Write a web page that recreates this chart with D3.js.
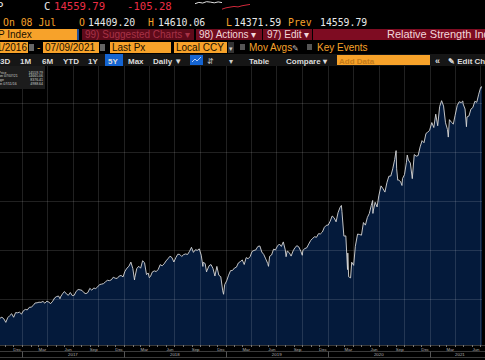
<!DOCTYPE html>
<html><head><meta charset="utf-8">
<script src="https://cdn.jsdelivr.net/npm/d3@7"></script>
<style>html,body{margin:0;padding:0;background:#000;overflow:hidden}</style>
</head><body><svg id="c" width="485" height="360"></svg>
<script>
// ---------- DATA ----------
const dates = ["2016-07-11","2016-07-15","2016-07-22","2016-07-29","2016-08-05","2016-08-12","2016-08-19","2016-08-26","2016-09-02","2016-09-09","2016-09-16","2016-09-23","2016-09-30","2016-10-07","2016-10-14","2016-10-21","2016-10-28","2016-11-04","2016-11-11","2016-11-18","2016-11-25","2016-12-02","2016-12-09","2016-12-16","2016-12-23","2016-12-30",
"2017-01-06","2017-01-13","2017-01-20","2017-01-27","2017-02-03","2017-02-10","2017-02-17","2017-02-24","2017-03-03","2017-03-10","2017-03-17","2017-03-24","2017-03-31","2017-04-07","2017-04-13","2017-04-21","2017-04-28","2017-05-05","2017-05-12","2017-05-17","2017-05-19","2017-05-26","2017-06-02","2017-06-09","2017-06-16","2017-06-23","2017-06-30","2017-07-07","2017-07-14","2017-07-21","2017-07-28","2017-08-04","2017-08-11","2017-08-18","2017-08-25","2017-09-01","2017-09-08","2017-09-15","2017-09-22","2017-09-29","2017-10-06","2017-10-13","2017-10-20","2017-10-27","2017-11-03","2017-11-10","2017-11-17","2017-11-24","2017-12-01","2017-12-08","2017-12-15","2017-12-22","2017-12-29",
"2018-01-05","2018-01-12","2018-01-19","2018-01-26","2018-02-02","2018-02-08","2018-02-09","2018-02-16","2018-02-23","2018-03-02","2018-03-09","2018-03-16","2018-03-23","2018-03-29","2018-04-02","2018-04-06","2018-04-13","2018-04-20","2018-04-27","2018-05-04","2018-05-11","2018-05-18","2018-05-25","2018-06-01","2018-06-08","2018-06-15","2018-06-22","2018-06-29","2018-07-06","2018-07-13","2018-07-20","2018-07-27","2018-08-03","2018-08-10","2018-08-17","2018-08-24","2018-08-31","2018-09-07","2018-09-14","2018-09-21","2018-09-28","2018-10-05","2018-10-11","2018-10-12","2018-10-19","2018-10-24","2018-10-26","2018-11-02","2018-11-09","2018-11-16","2018-11-23","2018-11-30","2018-12-07","2018-12-14","2018-12-21","2018-12-24","2018-12-28",
"2019-01-04","2019-01-11","2019-01-18","2019-01-25","2019-02-01","2019-02-08","2019-02-15","2019-02-22","2019-03-01","2019-03-08","2019-03-15","2019-03-22","2019-03-29","2019-04-05","2019-04-12","2019-04-18","2019-04-26","2019-05-03","2019-05-10","2019-05-17","2019-05-24","2019-05-31","2019-06-03","2019-06-07","2019-06-14","2019-06-21","2019-06-28","2019-07-05","2019-07-12","2019-07-19","2019-07-26","2019-08-02","2019-08-05","2019-08-09","2019-08-16","2019-08-23","2019-08-30","2019-09-06","2019-09-13","2019-09-20","2019-09-27","2019-10-02","2019-10-04","2019-10-11","2019-10-18","2019-10-25","2019-11-01","2019-11-08","2019-11-15","2019-11-22","2019-11-29","2019-12-06","2019-12-13","2019-12-20","2019-12-27",
"2020-01-03","2020-01-10","2020-01-17","2020-01-24","2020-01-31","2020-02-07","2020-02-14","2020-02-19","2020-02-21","2020-02-28","2020-03-06","2020-03-12","2020-03-13","2020-03-16","2020-03-20","2020-03-23","2020-03-27","2020-04-03","2020-04-09","2020-04-17","2020-04-24","2020-05-01","2020-05-08","2020-05-15","2020-05-22","2020-05-29","2020-06-05","2020-06-10","2020-06-11","2020-06-12","2020-06-19","2020-06-26","2020-07-02","2020-07-10","2020-07-17","2020-07-24","2020-07-31","2020-08-07","2020-08-14","2020-08-21","2020-08-28","2020-09-02","2020-09-04","2020-09-08","2020-09-11","2020-09-18","2020-09-23","2020-09-25","2020-10-02","2020-10-09","2020-10-12","2020-10-16","2020-10-23","2020-10-30","2020-11-06","2020-11-13","2020-11-20","2020-11-27","2020-12-04","2020-12-11","2020-12-18","2020-12-24","2020-12-31",
"2021-01-08","2021-01-15","2021-01-22","2021-01-29","2021-02-05","2021-02-12","2021-02-19","2021-02-26","2021-03-05","2021-03-08","2021-03-12","2021-03-19","2021-03-26","2021-04-01","2021-04-09","2021-04-16","2021-04-23","2021-04-29","2021-04-30","2021-05-07","2021-05-12","2021-05-14","2021-05-21","2021-05-28","2021-06-04","2021-06-11","2021-06-18","2021-06-25","2021-07-02","2021-07-07","2021-07-08"];
const closes = [4988,5029,5100,5162,5221,5232,5238,5219,5249,5125,5244,5305,5312,5292,5214,5257,5190,5046,5237,5321,5398,5255,5444,5437,5462,5383,
5521,5574,5555,5660,5667,5734,5838,5845,5870,5861,5901,5828,5912,5878,5805,5910,6047,6100,6121,6011,6083,6210,6305,6208,6151,6265,6140,6153,6312,6387,6374,6351,6256,6216,6265,6435,6360,6448,6426,6496,6590,6606,6629,6701,6764,6750,6783,6890,6847,6840,6936,6960,6903,
7136,7261,7336,7506,7240,6777,6874,7239,7337,7257,7560,7482,6993,7063,6870,6915,7107,7146,7120,7210,7403,7354,7434,7555,7646,7746,7692,7510,7688,7826,7820,7737,7812,7839,7816,7945,8110,7903,8010,7987,8046,7788,7329,7497,7449,7108,7167,7357,7407,7248,6938,7330,6970,6910,6333,6193,6585,
6739,6971,7157,7165,7264,7298,7472,7527,7595,7408,7689,7643,7729,7939,7984,7998,8146,8164,7917,7816,7637,7453,7333,7742,7797,8032,8006,8162,8244,8146,8330,8004,7726,7959,7896,7751,7963,8103,8177,8118,7940,7785,7982,8057,8090,8243,8386,8475,8541,8520,8665,8657,8735,8925,9007,
9020,9179,9388,9315,9151,9520,9731,9817,9577,8567,8576,7201,7875,6905,6880,6861,7502,7373,8154,8650,8634,8605,9121,9015,9325,9490,9815,10020,9493,9589,9946,9757,10208,10617,10503,10363,10745,11011,11019,11312,11696,12056,11313,10848,10854,10793,10633,10914,11075,11580,11876,11672,11548,10912,11895,11829,11855,12206,12464,12378,12756,12805,12888,
13202,12998,13543,13071,13856,14095,13875,13192,12920,12609,13320,13215,13139,13480,13900,14052,14016,14082,13962,13752,13032,13430,13471,13749,13814,14069,14030,14360,14639,14665,14560];
const yGridValues = [4000,6000,8000,10000,12000,14000];
const yearLabels = ["2017","2018","2019","2020","2021"];
const legendLabels = ["Last Price","High on 07/07/21","Average","Low on 07/11/16"];
const legendValues = ["14559.79","14665.06","8376.41","4988.64"];
const sparkPrev = [14560,14590,14575,14605,14595,14580,14600,14585];
const sparkToday = [14440,14470,14485,14500,14490,14515,14530,14545];
const periodButtons = ["3D","1M","6M","YTD","1Y","5Y","Max"];

// ---------- SETUP ----------
const W = 485, H = 360;
const svg = d3.select("#c");
svg.append("rect").attr("width", W).attr("height", H).attr("fill", "#000");
const MONO = "'DejaVu Sans Mono', 'Liberation Mono', monospace";
const SANS = "'Liberation Sans', Arial, sans-serif";
const ORANGE = "#f7a22a", RED = "#ec2d45", MAROON = "#720c1f";

function txt(g, x, yb, s, fill, size, fam, opts = {}) {
  const t = g.append("text").attr("x", x).attr("y", yb).text(s)
    .attr("fill", fill).attr("font-size", size).attr("font-family", fam);
  if (opts.anchor) t.attr("text-anchor", opts.anchor);
  if (opts.weight) t.attr("font-weight", opts.weight);
  return t;
}
function box(g, x, y, w, h, fill) {
  return g.append("rect").attr("x", x).attr("y", y).attr("width", w).attr("height", h).attr("fill", fill);
}

// ---------- HEADER ----------
const hd = svg.append("g");
// row 1
txt(hd, -3, 10, "P", "#e8e8e8", 10.6, MONO);
txt(hd, 44, 10, "C", "#e8e8e8", 10.6, MONO);
txt(hd, 54, 10, "14559.79", RED, 10.6, MONO);
txt(hd, 127, 10, "-105.28", RED, 10.6, MONO);
const spx1 = d3.scaleLinear().domain([0, sparkPrev.length - 1]).range([195, 222]);
const spx2 = d3.scaleLinear().domain([0, sparkToday.length - 1]).range([222, 250]);
const spy = d3.scaleLinear().domain([14400, 14620]).range([11, 1]);
hd.append("path").attr("d", d3.line().x((d, i) => spx1(i)).y(d => spy(d))(sparkPrev))
  .attr("fill", "none").attr("stroke", "#e0e0e0").attr("stroke-width", 1);
hd.append("path").attr("d", d3.line().x((d, i) => spx2(i)).y(d => spy(d))(sparkToday))
  .attr("fill", "none").attr("stroke", "#d0283a").attr("stroke-width", 1);
// row 2
txt(hd, 3, 26, "On 08 Jul", ORANGE, 9.8, MONO);
txt(hd, 79, 26, "O", ORANGE, 9.8, MONO);
txt(hd, 88, 26, "14409.20", "#e8e8e8", 9.8, MONO);
txt(hd, 148, 26, "H", ORANGE, 9.8, MONO);
txt(hd, 158, 26, "14610.06", "#e8e8e8", 9.8, MONO);
txt(hd, 226, 26, "L", ORANGE, 9.8, MONO);
txt(hd, 234, 26, "14371.59", "#e8e8e8", 9.8, MONO);
txt(hd, 288, 26, "Prev", ORANGE, 9.8, MONO);
txt(hd, 320, 26, "14559.79", "#e8e8e8", 9.8, MONO);
// row 3
box(hd, 0, 29, 77, 11, ORANGE);
box(hd, 77, 29, 2, 11, "#1f4f9a");
box(hd, 82, 29, 112, 11, "#5e0a1a");
box(hd, 196, 29, 66, 11, MAROON);
box(hd, 263, 29, 49, 11, MAROON);
box(hd, 313, 29, 172, 11, "#7e0c22");
txt(hd, -2, 38.3, "P Index", "#1a1000", 10, SANS);
txt(hd, 85, 38.3, "99) Suggested Charts \u25BE", "#a83246", 10, SANS);
txt(hd, 199, 38.3, "98) Actions \u25BE", "#f2d6da", 10, SANS);
txt(hd, 267, 38.3, "97) Edit \u25BE", "#f2d6da", 10, SANS);
txt(hd, 387, 38.3, "Relative Strength Index", "#f2d6da", 11, SANS);
// row 4
box(hd, 0, 42, 28, 11, ORANGE);
box(hd, 29, 44, 5, 7, "#666");
txt(hd, 37, 51.3, "-", ORANGE, 10, SANS);
box(hd, 43, 42, 56, 11, ORANGE);
box(hd, 100, 44, 5, 7, "#666");
box(hd, 110, 42, 61, 11, ORANGE);
box(hd, 174, 42, 53, 11, ORANGE);
box(hd, 228, 42, 6, 11, "#333");
txt(hd, 229, 51, "\u25BE", "#ccc", 7, SANS);
box(hd, 240, 44, 5, 6, "#555");
box(hd, 307, 44, 5, 6, "#555");
txt(hd, 27, 51.3, "07/11/2016", "#1a1000", 10, SANS, { anchor: "end" });
txt(hd, 45, 51.3, "07/09/2021", "#1a1000", 10, SANS);
txt(hd, 112, 51.3, "Last Px", "#1a1000", 10, SANS);
txt(hd, 176, 51.3, "Local CCY", "#1a1000", 10, SANS);
txt(hd, 249, 51.3, "Mov Avgs", ORANGE, 10, SANS);
txt(hd, 292, 51.3, "\u270E", "#bbb", 8, SANS);
txt(hd, 317, 51.3, "Key Events", ORANGE, 10, SANS);
// row 5
box(hd, 0, 54, W, 12, "#161616");
const btnX = [0, 20, 42, 63, 88, 108, 128];
box(hd, 105, 54, 18, 12, "#1464d2");
periodButtons.forEach((b, i) => txt(hd, btnX[i], 63.5, b, "#dcdcdc", 8, SANS, { weight: "bold" }));
txt(hd, 153, 63.5, "Daily \u25BC", "#dcdcdc", 8, SANS, { weight: "bold" });
box(hd, 190, 55, 13, 10, "#1464d2");
hd.append("path").attr("d", "M192,62 L195,59 L197,61 L201,57").attr("stroke", "#dfe8ff").attr("fill", "none").attr("stroke-width", 0.8);
txt(hd, 207, 63.5, "\u21F5", "#bbb", 8, SANS);
txt(hd, 229, 63.5, "\u25BE", "#ccc", 8, SANS);
txt(hd, 249, 63.5, "Table", "#dcdcdc", 8, SANS, { weight: "bold" });
txt(hd, 286, 63.5, "Compare \u25BE", "#dcdcdc", 8, SANS, { weight: "bold" });
box(hd, 337, 55, 93, 10, ORANGE);
txt(hd, 339, 63.5, "Add Data", "#c47a18", 8, SANS, { weight: "bold" });
txt(hd, 435, 63.5, "\u00AB", "#dcdcdc", 9, SANS, { weight: "bold" });
txt(hd, 448, 63.5, "\u270E Edit Chart", "#dcdcdc", 8, SANS, { weight: "bold" });

// ---------- CHART ----------
const parse = d3.timeParse("%Y-%m-%d");
const data = dates.map((d, i) => ({ date: parse(d), value: closes[i] }));
const x = d3.scaleTime().domain([new Date(2017, 0, 1), new Date(2021, 3, 1)]).range([22, 455]);
const y = d3.scaleLinear().domain([4000, 14000]).range([348, 103]);
const plotTop = 66, plotBottom = 345, plotRight = 482;

svg.append("clipPath").attr("id", "pc").append("rect")
  .attr("x", 0).attr("y", plotTop).attr("width", plotRight).attr("height", plotBottom - plotTop);
const plot = svg.append("g").attr("clip-path", "url(#pc)");

plot.append("path").datum(data)
  .attr("d", d3.area().x(d => x(d.date)).y0(plotBottom).y1(d => y(d.value)))
  .attr("fill", "#041a3b");

const gridG = plot.append("g");
const qStarts = d3.timeMonths(new Date(2016, 9, 1), new Date(2021, 7, 1), 3);
gridG.selectAll("line.v").data(qStarts).join("line")
  .attr("x1", d => Math.round(x(d)) + 0.5).attr("x2", d => Math.round(x(d)) + 0.5)
  .attr("y1", plotTop).attr("y2", plotBottom)
  .attr("stroke", "rgba(255,255,255,0.13)").attr("stroke-width", 1);
gridG.selectAll("line.h").data(yGridValues).join("line")
  .attr("x1", 0).attr("x2", plotRight)
  .attr("y1", d => Math.round(y(d)) + 0.5).attr("y2", d => Math.round(y(d)) + 0.5)
  .attr("stroke", "rgba(255,255,255,0.13)").attr("stroke-width", 1);

plot.append("path").datum(data)
  .attr("d", d3.line().x(d => x(d.date)).y(d => y(d.value)))
  .attr("fill", "none").attr("stroke", "#d8d8d8").attr("stroke-width", 0.9);

// legend box
const lg = svg.append("g");
box(lg, 0, 66, 45, 23, "#1c1c1c");
legendLabels.forEach((l, i) => {
  txt(lg, -9, 73.5 + i * 3.8, l, "#d0d0d0", 3.5, SANS);
  txt(lg, 43, 73.5 + i * 3.8, legendValues[i], "#d0d0d0", 3.5, SANS, { anchor: "end" });
});

// ---------- X AXIS ----------
const ax = svg.append("g");
ax.append("line").attr("x1", 0).attr("x2", W).attr("y1", 345.5).attr("y2", 345.5).attr("stroke", "#3a3a3a");
ax.append("line").attr("x1", 0).attr("x2", W).attr("y1", 351.5).attr("y2", 351.5).attr("stroke", "#3a3a3a");
ax.append("line").attr("x1", 0).attr("x2", W).attr("y1", 357.5).attr("y2", 357.5).attr("stroke", "#3a3a3a");
const months = d3.timeMonths(new Date(2016, 8, 1), new Date(2021, 7, 1));
ax.selectAll("line.mt").data(months).join("line")
  .attr("x1", d => Math.round(x(d)) + 0.5).attr("x2", d => Math.round(x(d)) + 0.5)
  .attr("y1", 345).attr("y2", 347).attr("stroke", "#777");
const qLabels = d3.timeMonths(new Date(2016, 11, 1), new Date(2021, 6, 1), 3);
const fmt = d3.timeFormat("%b");
ax.selectAll("text.ml").data(qLabels).join("text")
  .attr("x", d => x(d3.timeDay.offset(d, 14))).attr("y", 350.6)
  .attr("text-anchor", "middle").attr("font-size", 4.4).attr("font-family", SANS)
  .attr("fill", "#b0b0b0").text(d => fmt(d));
const yStarts = yearLabels.map(s => new Date(+s, 0, 1));
ax.selectAll("line.ys").data(yStarts).join("line")
  .attr("x1", d => Math.round(x(d)) + 0.5).attr("x2", d => Math.round(x(d)) + 0.5)
  .attr("y1", 351.5).attr("y2", 357.5).attr("stroke", "#555");
ax.selectAll("text.yl").data(yearLabels).join("text")
  .attr("x", d => { const a = x(new Date(+d, 0, 1)); const b = Math.min(x(new Date(+d + 1, 0, 1)), W + 5); return (a + b) / 2; })
  .attr("y", 356.4).attr("text-anchor", "middle").attr("font-size", 4.4).attr("font-family", SANS)
  .attr("fill", "#b0b0b0").text(d => d);
</script></body></html>
